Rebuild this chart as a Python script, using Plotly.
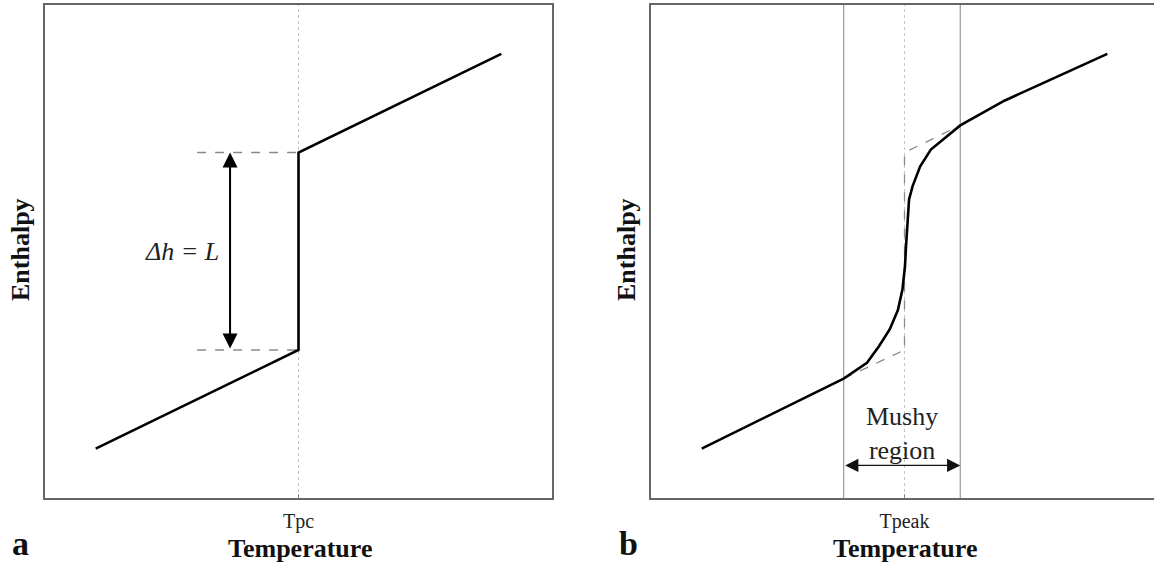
import plotly.graph_objects as go

# ---- Panel a: ideal phase change at a single temperature ----
temp_a = [1.0, 5.0, 5.0, 9.0]
enth_a = [1.0, 3.0, 7.0, 9.0]
T_pc = 5.0
h_low, h_high = 3.0, 7.0          # enthalpy before / after the latent jump
dash_start_a = 3.0                # left end of the dashed level guides
arrow_x_a = 3.65                  # position of the Δh arrow

# ---- Panel b: phase change spread over a mushy region ----
temp_b = [1.0, 3.8, 4.26, 4.5, 4.71, 4.87, 4.96, 5.01, 5.03, 5.05,
          5.09, 5.16, 5.31, 5.52, 5.79, 6.1, 6.97, 9.0]
enth_b = [1.0, 2.42, 2.74, 3.08, 3.42, 3.81, 4.23, 4.70, 5.10, 5.51,
          6.05, 6.32, 6.72, 7.06, 7.29, 7.55, 8.05, 9.0]
ideal_temp_b = [3.8, 5.0, 5.0, 6.1]
ideal_enth_b = [2.42, 3.0, 7.0, 7.55]
T_peak = 5.0
mushy_lo, mushy_hi = 3.8, 6.1
mushy_arrow_y = 0.66

W, H = 1154, 570
SERIF = "Liberation Serif"
FRAME = "#666"

fig = go.Figure()

# panel a
fig.add_trace(go.Scatter(x=[dash_start_a, T_pc, None, dash_start_a, T_pc],
                         y=[h_low, h_low, None, h_high, h_high],
                         mode="lines", line=dict(color="#8a8a8a", width=1.4, dash="dash"),
                         xaxis="x", yaxis="y", hoverinfo="skip"))
fig.add_trace(go.Scatter(x=temp_a, y=enth_a, mode="lines",
                         line=dict(color="black", width=2.6),
                         xaxis="x", yaxis="y"))

# panel b
fig.add_trace(go.Scatter(x=ideal_temp_b, y=ideal_enth_b, mode="lines",
                         line=dict(color="#8a8a8a", width=1.3, dash="dash"),
                         xaxis="x2", yaxis="y2", hoverinfo="skip"))
fig.add_trace(go.Scatter(x=temp_b, y=enth_b, mode="lines",
                         line=dict(color="black", width=2.6),
                         xaxis="x2", yaxis="y2"))

shapes = [
    dict(type="line", xref="x", yref="y domain", x0=T_pc, x1=T_pc, y0=0, y1=1,
         line=dict(color="#c4c4c4", width=1, dash="dot"), layer="below"),
    dict(type="line", xref="x2", yref="y2 domain", x0=T_peak, x1=T_peak, y0=0, y1=1,
         line=dict(color="#c4c4c4", width=1, dash="dot"), layer="below"),
    dict(type="line", xref="x2", yref="y2 domain", x0=mushy_lo, x1=mushy_lo, y0=0, y1=1,
         line=dict(color="#999", width=1.2), layer="below"),
    dict(type="line", xref="x2", yref="y2 domain", x0=mushy_hi, x1=mushy_hi, y0=0, y1=1,
         line=dict(color="#999", width=1.2), layer="below"),
]


def paper_text(x_px, y_px, text, size, angle=0):
    return dict(x=x_px / W, y=1 - y_px / H, xref="paper", yref="paper",
                xanchor="center", yanchor="middle", text=text, textangle=angle,
                showarrow=False, font=dict(family=SERIF, size=size, color="#111"))


annotations = [
    # latent heat arrow and label
    dict(x=arrow_x_a, y=h_high, ax=arrow_x_a, ay=h_low, xref="x", yref="y",
         axref="x", ayref="y", text="", showarrow=True, arrowhead=2,
         startarrowhead=2, arrowside="end+start", arrowsize=1.5,
         startarrowsize=1.5, arrowwidth=2, arrowcolor="black",
         standoff=0, startstandoff=0),
    dict(x=2.7, y=5.0, xref="x", yref="y", xanchor="center", yanchor="middle",
         text="<i>Δh = L</i>", showarrow=False,
         font=dict(family=SERIF, size=26, color="#222")),
    # mushy region arrow and label
    dict(x=mushy_hi, y=mushy_arrow_y, ax=mushy_lo, ay=mushy_arrow_y, xref="x2", yref="y2",
         axref="x2", ayref="y2", text="", showarrow=True, arrowhead=2,
         startarrowhead=2, arrowside="end+start", arrowsize=2.2,
         startarrowsize=2.2, arrowwidth=1.2, arrowcolor="#111",
         standoff=0, startstandoff=0),
    dict(x=4.96, y=1.30, xref="x2", yref="y2", xanchor="center", yanchor="middle",
         text="Mushy<br>region", showarrow=False,
         font=dict(family=SERIF, size=26, color="#222")),
    # axis titles
    paper_text(300, 548, "<b>Temperature</b>", 26),
    paper_text(905, 548, "<b>Temperature</b>", 26),
    paper_text(20, 250, "<b>Enthalpy</b>", 26, -90),
    paper_text(626, 250, "<b>Enthalpy</b>", 26, -90),
    # panel letters
    paper_text(20, 543, "<b>a</b>", 34),
    paper_text(628, 543, "<b>b</b>", 34),
]

px_per_unit = 507 / 10.0
y_dom = [1 - 498 / H, 1 - 4.5 / H]

common_x = dict(showgrid=False, zeroline=False, showline=True, linecolor=FRAME,
                linewidth=1.5, ticks="inside", ticklen=4, tickcolor="#888",
                tickfont=dict(family=SERIF, size=20, color="#222"), fixedrange=True,
                ticklabelstandoff=4)
common_y = dict(showgrid=False, zeroline=False, showline=True, linecolor=FRAME,
                linewidth=1.5, showticklabels=False, ticks="", range=[0, 10],
                domain=y_dom, fixedrange=True)

fig.update_layout(
    width=W, height=H,
    margin=dict(l=0, r=0, t=0, b=0),
    paper_bgcolor="white", plot_bgcolor="white",
    showlegend=False,
    xaxis=dict(common_x, domain=[45 / W, 552 / W], range=[0, 10], mirror=True,
               tickvals=[T_pc], ticktext=["Tpc"], anchor="y"),
    yaxis=dict(common_y, mirror=True, anchor="x"),
    xaxis2=dict(common_x, domain=[651 / W, 1.0], range=[0, (W - 651) / px_per_unit],
                mirror=True, tickvals=[T_peak], ticktext=["Tpeak"], anchor="y2"),
    yaxis2=dict(common_y, mirror=False, anchor="x2"),
    shapes=shapes,
    annotations=annotations,
)

fig.write_html("out.html")
